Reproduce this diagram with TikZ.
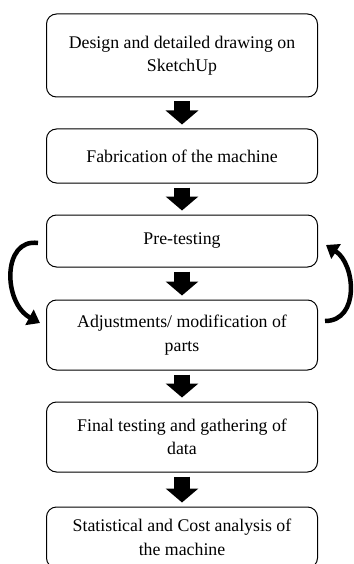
\documentclass[tikz,border=0pt]{standalone}
\usepackage{fontspec}
\setmainfont{Liberation Serif}
\usetikzlibrary{positioning, arrows.meta}
\tikzstyle{stage}=[%
      rectangle, rounded corners=10pt, draw=black, line width=1pt, fill=white,
      minimum width=271pt, align=center, inner sep=4pt,
      font=\fontsize{17.8}{23.5}\selectfont
]
\tikzstyle{down}=[%
      line width=16pt, shorten <=4pt, shorten >=4pt,
      -{Triangle[length=14pt,width=32pt]}
]
\tikzstyle{bendarr}=[%
      line width=4.5pt, -{Triangle[length=12pt,width=17pt]}
]

\begin{document}
\begin{tikzpicture}[node distance=31pt]
    \useasboundingbox (0,0) rectangle (353pt,-564pt);

    \node[stage, minimum height=83pt] (design) at (182pt,-55.5pt) {Design and detailed drawing on\\SketchUp};
    \node[stage, minimum height=54pt] (fab)     [below = of design]       {Fabrication of the machine};
    \node[stage, minimum height=52pt] (pretest) [below = of fab]          {Pre-testing};
    \node[stage, minimum height=70pt] (adjust)  [below = 32pt of pretest] {Adjustments/ modification of\\parts};
    \node[stage, minimum height=70pt] (final)   [below = of adjust]       {Final testing and gathering of\\data};
    \node[stage, minimum height=61pt] (stats)   [below = 34pt of final]   {Statistical and Cost analysis of\\the machine};

    \draw[down] (design) -- (fab);
    \draw[down] (fab) -- (pretest);
    \draw[down] (pretest) -- (adjust);
    \draw[down] (adjust) -- (final);
    \draw[down] (final) -- (stats);

    % feedback loop between pre-testing and adjustments
    \coordinate (lstart) at ([shift={(-8pt,-2pt)}]pretest.west);
    \coordinate (lend)   at ([shift={(-6pt,12pt)}]adjust.west);
    \coordinate (rstart) at ([shift={(7pt,14pt)}]adjust.east);
    \coordinate (rend)   at ([shift={(8pt,-4pt)}]pretest.east);
    \draw[bendarr] (lstart) .. controls +(-36pt,5pt) and +(-37pt,20pt) .. (lend);
    \draw[bendarr] (rstart) .. controls +(35pt,0pt) and +(29.5pt,-19pt) .. (rend);

\end{tikzpicture}
\end{document}
